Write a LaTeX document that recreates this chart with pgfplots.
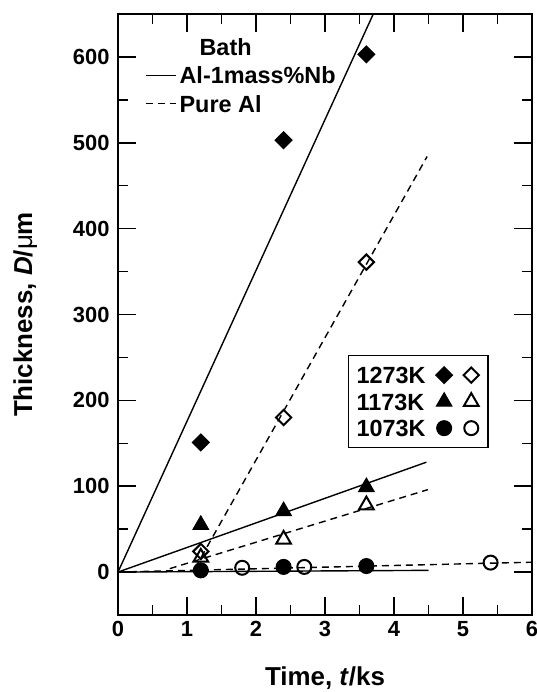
\documentclass[border=0pt]{standalone}
\usepackage{pgfplots}
\pgfplotsset{compat=1.18}
\usepackage{fontspec}
\setmainfont{Liberation Sans}
\begin{document}
\begin{tikzpicture}
\pgfplotsset{
  fdiam/.style={only marks, mark=square*, mark size=6bp, mark options={rotate=45, solid, fill=black, line width=1bp}},
  odiam/.style={only marks, mark=square, mark size=5.4bp, mark options={rotate=45, solid, line width=2bp}},
  ftri/.style={only marks, mark=triangle*, mark size=9bp, mark options={solid, fill=black, line width=1bp}},
  otri/.style={only marks, mark=triangle, mark size=8.5bp, mark options={solid, line width=2bp}},
  fcirc/.style={only marks, mark=*, mark size=7.5bp, mark options={solid, fill=black, line width=1bp}},
  ocirc/.style={only marks, mark=o, mark size=7bp, mark options={solid, line width=2bp}},
  solidfit/.style={no marks, solid, line width=1.4bp},
  dashfit/.style={no marks, line width=1.4bp, dash pattern=on 7bp off 5bp},
  tickseg/.style={black, solid, line width=1.5bp, no marks, forget plot},
  longline/.style={legend image code/.code={\draw[##1] (0bp,0bp) -- (30bp,0bp);}},
}
\begin{axis}[scale only axis, width=414bp, height=601bp,
  xmin=0, xmax=6, ymin=-50, ymax=650,
  name=main,
  xtick={0,1,...,6}, ytick={0,100,...,600},
  minor x tick num=1, minor y tick num=1,
  tick align=inside,
  xtick pos=both, ytick pos=both,
  major tick length=18bp, minor tick length=10bp,
  axis line style={line width=2bp},
  tick style={black, line width=1.5bp},
  tick label style={/pgf/number format/assume math mode=true, font=\fontsize{22}{26}\selectfont\bfseries},
  xticklabel style={yshift=-3bp},
  yticklabel style={xshift=-5bp},
  label style={font=\fontsize{26}{30}\selectfont\bfseries},
  xlabel={Time, \textit{t}/ks},
  ylabel={Thickness, \textit{D}/{\mdseries μ}m},
  xlabel style={at={(axis description cs:0.5,-0.1165)}, anchor=base},
  ylabel style={at={(axis description cs:-0.2077,0.5)}, anchor=base},
  legend style={draw=none, fill=none, at={(rel axis cs:0.0652,0.9667)}, anchor=north west,
     font=\fontsize{23.5}{27}\selectfont\bfseries, inner sep=0bp, row sep=3.5bp, column sep=2bp,
     nodes={inner sep=1bp, text height=20bp, text depth=3bp}},
  legend cell align=left,
]
% inward tick marks (major 18bp, minor 10bp) drawn as short segments
\addplot[tickseg, quiver={u=0, v=20.96}] coordinates {(1,-50) (2,-50) (3,-50) (4,-50) (5,-50)};
\addplot[tickseg, quiver={u=0, v=11.65}] coordinates {(0.5,-50) (1.5,-50) (2.5,-50) (3.5,-50) (4.5,-50) (5.5,-50)};
\addplot[tickseg, quiver={u=0, v=-20.96}] coordinates {(1,650) (2,650) (3,650) (4,650) (5,650)};
\addplot[tickseg, quiver={u=0, v=-11.65}] coordinates {(0.5,650) (1.5,650) (2.5,650) (3.5,650) (4.5,650) (5.5,650)};
\addplot[tickseg, quiver={u=0.2609, v=0}] coordinates {(0,0) (0,100) (0,200) (0,300) (0,400) (0,500) (0,600)};
\addplot[tickseg, quiver={u=0.1449, v=0}] coordinates {(0,50) (0,150) (0,250) (0,350) (0,450) (0,550)};
\addplot[tickseg, quiver={u=-0.2609, v=0}] coordinates {(6,0) (6,100) (6,200) (6,300) (6,400) (6,500) (6,600)};
\addplot[tickseg, quiver={u=-0.1449, v=0}] coordinates {(6,50) (6,150) (6,250) (6,350) (6,450) (6,550)};
% fitted lines, Al-1mass%Nb bath (solid)
\addplot[solidfit, forget plot] coordinates {(0,0) (3.70,650)};
\addplot[solidfit, forget plot] coordinates {(0,0) (4.47,128)};
\addplot[solidfit, forget plot] coordinates {(0,0) (4.50,2)};
% fitted lines, pure Al bath (dashed)
\addplot[dashfit, forget plot] coordinates {(1.12,5) (4.48,484)};
\addplot[dashfit, forget plot] coordinates {(0.75,4) (4.49,96)};
\addplot[dashfit, forget plot] coordinates {(0,0) (6,11.5)};
% data, Al-1mass%Nb (filled)
\addplot[fdiam, forget plot] coordinates {(1.2,151) (2.4,503) (3.6,603)};
\addplot[ftri, forget plot] coordinates {(1.2,55) (2.4,71) (3.6,99)};
\addplot[fcirc, forget plot] coordinates {(1.2,2) (2.4,6) (3.6,7)};
% data, pure Al (open)
\addplot[odiam, forget plot] coordinates {(1.2,24) (2.4,180) (3.6,361)};
\addplot[otri, forget plot] coordinates {(1.2,17) (2.4,38) (3.6,78)};
\addplot[ocirc, forget plot] coordinates {(1.8,5) (2.7,6) (5.4,11)};
% legend: bath
\addlegendimage{empty legend}\addlegendentry{\hspace{20bp}Bath}
\addlegendimage{solidfit, longline}\addlegendentry{Al-1mass\%Nb}
\addlegendimage{dashfit, longline}\addlegendentry{Pure Al}
\end{axis}
\begin{axis}[scale only axis, width=414bp, height=601bp,
  xmin=0, xmax=6, ymin=-50, ymax=650, hide axis,
  legend columns=3,
  legend style={at={(rel axis cs:0.5556,0.4326)}, anchor=north west, draw=black, line width=1.3bp, fill=white,
    font=\fontsize{23.5}{27}\selectfont\bfseries, inner sep=7bp, row sep=1.5bp, column sep=0bp,
    nodes={inner sep=1bp, text height=20bp, text depth=3bp},
    /tikz/every even column/.append style={column sep=9bp}},
  legend cell align=left,
  legend image code/.code={\draw[#1] plot coordinates {(0bp,0bp)};},
]
\addlegendimage{empty legend}\addlegendentry{1273K}
\addlegendimage{fdiam}\addlegendentry{}
\addlegendimage{odiam}\addlegendentry{}
\addlegendimage{empty legend}\addlegendentry{1173K}
\addlegendimage{ftri}\addlegendentry{}
\addlegendimage{otri}\addlegendentry{}
\addlegendimage{empty legend}\addlegendentry{1073K}
\addlegendimage{fcirc}\addlegendentry{}
\addlegendimage{ocirc}\addlegendentry{}
\end{axis}
\pgfresetboundingbox
\path[use as bounding box] ([shift={(-118bp,-77bp)}]main.south west) rectangle ([shift={(5bp,14bp)}]main.north east);
\end{tikzpicture}
\end{document}
